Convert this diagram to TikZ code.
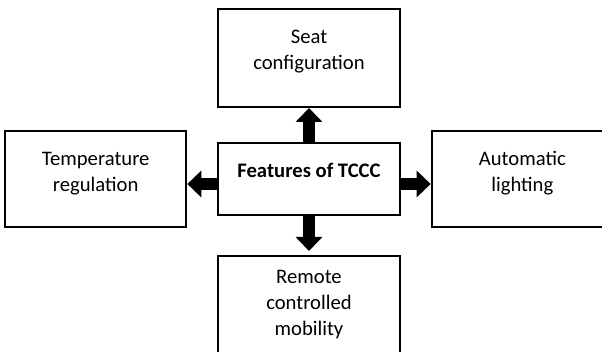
\documentclass[tikz,border=0pt]{standalone}
\usepackage{fontspec}
\setmainfont{Carlito}
\usepackage{tikz}
\usetikzlibrary{matrix,arrows.meta}
\newcommand{\boxtext}[3][26.25pt]{\parbox[c][#2][t]{136pt}{\centering\rule{0pt}{#1}#3}}

\begin{document}
\begin{tikzpicture}
	\matrix (m) [matrix of nodes,row sep=16.5pt,column sep=22.5pt,
		nodes={draw,line width=1.5pt,inner sep=0pt,anchor=center,font=\fontsize{15.5}{19.5}\selectfont}]
	{
		& \boxtext{73.5pt}{Seat\\configuration} & \\
		\boxtext{72pt}{Temperature\\regulation} & \boxtext{54pt}{\textbf{Features of TCCC}} & \boxtext{72pt}{Automatic\\lighting} \\[3.75pt]
		& \boxtext[21pt]{75pt}{Remote\\controlled\\mobility} & \\};
	\path[line width=9pt,-{Triangle[width=19.5pt,length=10.5pt]}]
	(m-2-2) edge (m-1-2)
	(m-2-2) edge [shorten >=3pt] (m-3-2)
	([yshift=-3.75pt]m-2-2.west) edge ([yshift=-3.75pt]m-2-2.west -| m-2-1.east)
	([yshift=-3.75pt]m-2-2.east) edge ([yshift=-3.75pt]m-2-2.east -| m-2-3.west);
	\pgfresetboundingbox
	\useasboundingbox ([shift={(-231.75pt,134.25pt)}]m-2-2.center) rectangle ([shift={(219.75pt,-129.75pt)}]m-2-2.center);
\end{tikzpicture}
\end{document}
